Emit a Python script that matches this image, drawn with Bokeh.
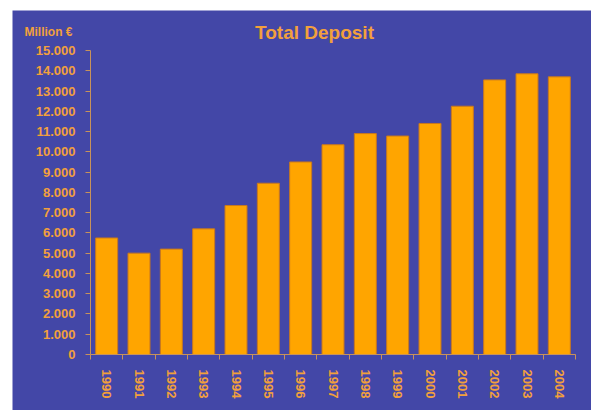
from bokeh.plotting import figure
from bokeh.models import Range1d, FixedTicker, Label, ColumnDataSource
from bokeh.embed import file_html
from bokeh.resources import INLINE

years = ["1990", "1991", "1992", "1993", "1994", "1995", "1996", "1997",
         "1998", "1999", "2000", "2001", "2002", "2003", "2004"]
deposits = [5750, 5000, 5200, 6200, 7350, 8450, 9500, 10350,
            10900, 10780, 11400, 12250, 13550, 13850, 13700]
y_ticks = list(range(0, 15001, 1000))
y_tick_labels = [f"{v:,}".replace(",", ".") for v in y_ticks]
title_text = "Total Deposit"
unit_text = "Million €"

BLUE = "#4347A7"
ORANGE_TXT = "#F2A03C"
AXIS_COL = "#C8925A"
FONT = "Liberation Sans"

n = len(years)
pos = [i + 0.5 for i in range(n)]
src = ColumnDataSource(dict(x=pos, top=deposits, year=years))

# frame fills the whole canvas; axes are pinned inside it
px_per_x = 485 / n
px_per_y = 304 / 15000
x_range = Range1d(-78 / px_per_x, n + 16 / px_per_x)
y_range = Range1d(-56 / px_per_y, 15000 + 40 / px_per_y)

p = figure(width=579, height=400, output_backend="svg", toolbar_location=None,
           x_range=x_range, y_range=y_range, title=None,
           min_border_left=0, min_border_right=0, min_border_top=0,
           min_border_bottom=0)
p.margin = (10, 0, 0, 12)
p.background_fill_color = BLUE
p.border_fill_color = BLUE
p.outline_line_color = None
p.xgrid.visible = False
p.ygrid.visible = False

p.vbar(x="x", top="top", width=0.68, bottom=0, source=src,
       fill_color="#FFA500", line_color="#C8781E", line_width=1)

# y axis
ya = p.yaxis[0]
ya.fixed_location = 0
ya.bounds = (0, 15000)
ya.ticker = FixedTicker(ticks=y_ticks)
ya.major_label_overrides = {v: s for v, s in zip(y_ticks, y_tick_labels)}
ya.axis_line_color = AXIS_COL
ya.major_tick_line_color = AXIS_COL
ya.major_tick_out = 5
ya.major_tick_in = 0
ya.minor_tick_line_color = None
ya.major_label_text_color = ORANGE_TXT
ya.major_label_text_font = FONT
ya.major_label_text_font_style = "bold"
ya.major_label_text_font_size = "13px"
ya.major_label_standoff = 10

# x axis
xa = p.xaxis[0]
xa.fixed_location = 0
xa.bounds = (0, n)
xa.ticker = FixedTicker(ticks=pos, minor_ticks=list(range(n + 1)))
xa.major_label_overrides = {x: y for x, y in zip(pos, years)}
xa.major_label_orientation = "vertical"
xa.axis_line_color = AXIS_COL
xa.major_tick_line_color = None
xa.minor_tick_line_color = AXIS_COL
xa.minor_tick_out = 5
xa.minor_tick_in = 0
xa.major_label_text_color = ORANGE_TXT
xa.major_label_text_font = FONT
xa.major_label_text_font_style = "bold"
xa.major_label_text_font_size = "13px"
xa.major_label_standoff = 9

p.add_layout(Label(x=(314 - 90) / px_per_x, y=(354 - 32) / px_per_y,
                   text=title_text, text_align="center",
                   text_baseline="alphabetic", text_color=ORANGE_TXT,
                   text_font=FONT, text_font_style="bold",
                   text_font_size="19px"))
p.add_layout(Label(x=(24 - 90) / px_per_x, y=(354 - 31) / px_per_y,
                   text=unit_text, text_align="left",
                   text_baseline="alphabetic", text_color=ORANGE_TXT,
                   text_font=FONT, text_font_style="bold",
                   text_font_size="12px"))

open("out.html", "w").write(file_html(p, INLINE))
